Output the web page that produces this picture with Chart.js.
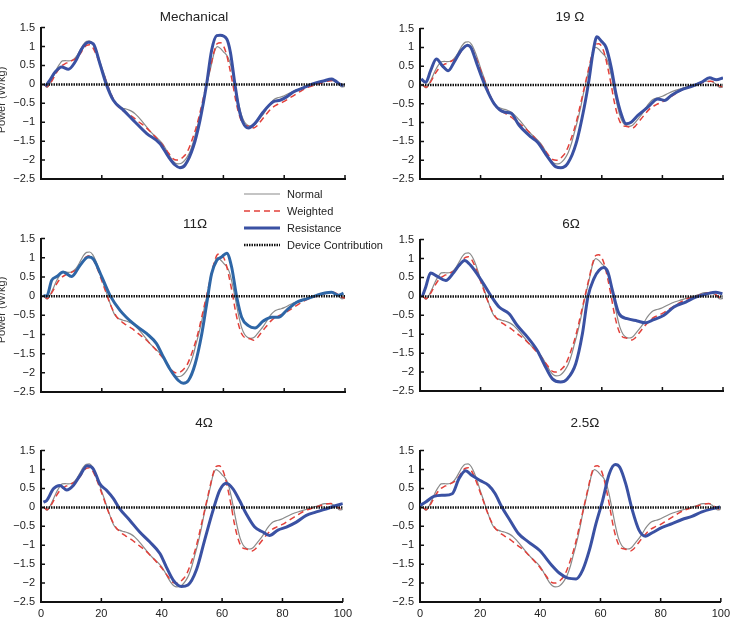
<!DOCTYPE html>
<html>
<head>
<meta charset="utf-8">
<script src="https://cdn.jsdelivr.net/npm/chart.js@4.4.0/dist/chart.umd.min.js"></script>
<style>
  html, body { margin:0; padding:0; background:#fff; }
  body { width:742px; height:621px; position:relative; overflow:hidden; font-family:"Liberation Sans", Arial, sans-serif; color:#222; }
  .panel { position:absolute; }
  .title { position:absolute; font-size:13.5px; color:#222; transform:translate(-50%,-50%); white-space:nowrap; }
  .ylab { position:absolute; font-size:11px; color:#333; white-space:nowrap; transform:translate(-50%,-50%) rotate(-90deg); }
  .legend { position:absolute; left:243px; top:185px; font-size:11px; color:#222; }
  .legend .row { height:17px; display:flex; align-items:center; }
  .legend svg { margin-right:6px; }
</style>
</head>
<body>
<script>
// ---------- DATA ----------
const xTicks = [0, 20, 40, 60, 80, 100];
const yTicks = [1.5, 1, 0.5, 0, -0.5, -1, -1.5, -2, -2.5];
const panelTitles = ['Mechanical', '19 \u03A9', '11\u03A9', '6\u03A9', '4\u03A9', '2.5\u03A9'];
const seriesNames = ['Normal', 'Weighted', 'Resistance', 'Device Contribution'];

const normalX = [1,2,3,4,5,6,7,8,9,10,11,12,13,14,15,16,17,18,19,20,21,22,23,24,25,26,27,28,29,30,31,32,33,34,35,36,37,38,39,40,41,42,43,44,45,46,47,48,49,50,51,52,53,54,55,56,57,58,59,60,61,62,63,64,65,66,67,68,69,70,71,72,73,74,75,76,77,78,79,80,82,84,86,88,90,92,94,96,97,98,99,100];
const normalY = [0.0,-0.08,0.03,0.2,0.38,0.52,0.62,0.63,0.62,0.63,0.68,0.78,0.92,1.06,1.14,1.15,1.08,0.92,0.7,0.45,0.22,-0.02,-0.25,-0.45,-0.56,-0.6,-0.63,-0.65,-0.68,-0.72,-0.78,-0.86,-0.95,-1.05,-1.15,-1.25,-1.33,-1.4,-1.48,-1.57,-1.7,-1.85,-1.98,-2.07,-2.1,-2.09,-2.03,-1.93,-1.78,-1.55,-1.25,-0.95,-0.6,-0.2,0.15,0.5,0.85,1.0,0.95,0.86,0.78,0.62,0.3,-0.1,-0.5,-0.82,-1.0,-1.08,-1.1,-1.08,-1.0,-0.9,-0.8,-0.68,-0.55,-0.45,-0.38,-0.35,-0.33,-0.3,-0.22,-0.15,-0.1,-0.05,0.0,0.05,0.1,0.1,0.06,0.0,-0.07,-0.05];

const weightedX = [1,2,3,4,5,6,7,8,9,10,11,12,13,14,15,16,17,18,19,20,21,22,23,24,25,26,27,28,30,32,34,36,38,40,42,43,44,45,46,47,48,49,50,51,52,53,54,55,56,57,58,59,60,61,62,63,64,65,66,67,68,69,70,71,72,74,76,78,80,82,84,86,88,90,92,94,96,97,98,99,100];
const weightedY = [0.0,-0.06,0.02,0.15,0.3,0.42,0.5,0.55,0.58,0.62,0.66,0.72,0.82,0.95,1.03,1.05,0.98,0.82,0.62,0.4,0.18,-0.05,-0.25,-0.42,-0.55,-0.63,-0.7,-0.75,-0.85,-0.98,-1.1,-1.25,-1.42,-1.6,-1.82,-1.93,-1.99,-2.0,-1.97,-1.9,-1.8,-1.62,-1.4,-1.15,-0.85,-0.5,-0.15,0.2,0.55,0.88,1.08,1.1,1.02,0.8,0.45,0.05,-0.4,-0.75,-0.98,-1.08,-1.1,-1.12,-1.15,-1.1,-1.0,-0.8,-0.62,-0.52,-0.45,-0.35,-0.25,-0.15,-0.07,-0.02,0.03,0.08,0.1,0.08,0.02,-0.03,-0.05];

const deviceX = [0, 100];
const deviceY = [0, 0];

const resMechX = [1.5,3,4.6,6.8,9,11.2,13.4,15.6,17.2,19.4,21.4,23.8,27.1,30.4,34.8,39.1,41.9,44.1,45.7,47.4,50.1,52.3,54.5,56.1,57.8,58.9,61.1,62.3,63.8,65,66.4,68.2,70.4,73.1,76.4,78.6,80.8,83,86.3,89.6,92.9,95.6,96.7,98.4,99.5];
const resMechY = [-0.05,0.12,0.32,0.46,0.4,0.59,0.94,1.11,1.07,0.54,0.02,-0.42,-0.68,-0.95,-1.3,-1.56,-1.91,-2.13,-2.2,-2.13,-1.65,-0.95,0.02,0.89,1.29,1.3,1.2,0.85,0.0,-0.6,-1.0,-1.15,-1.03,-0.73,-0.46,-0.42,-0.33,-0.2,-0.09,0.02,0.09,0.14,0.1,0.0,-0.03];

const res19X = [0.4,1.9,3.5,5.4,7.4,9.3,11.2,13.5,15.7,16.8,19,21.7,24.5,27.8,30,32.7,36.6,38.8,42.1,44.9,46.5,48.7,51.5,54.2,55.9,57,58.4,59.8,61.4,63.1,64.7,66.4,68,69.7,71.9,75.2,78.5,80.7,82.9,86.2,89.5,92.8,95.6,97.8,100];
const res19Y = [0.16,0.07,0.38,0.69,0.51,0.38,0.6,0.91,1.06,1.0,0.51,-0.06,-0.5,-0.72,-0.75,-1.07,-1.38,-1.52,-1.91,-2.18,-2.2,-2.09,-1.56,-0.59,0.2,0.82,1.28,1.17,1.0,0.47,-0.24,-0.77,-1.03,-0.99,-0.81,-0.59,-0.37,-0.41,-0.28,-0.13,-0.04,0.07,0.19,0.14,0.19];

const res11X = [0.8,1.9,3.5,5.2,7.3,10.1,12.8,15.6,17.2,20,22.7,26,30.4,34.8,38,39.7,42.4,45.2,46.8,48.5,50.7,52.9,54.5,56.1,57.8,59.4,61.1,62.7,64.4,66,68.2,70.4,73.1,75.9,78.1,80.8,84.1,87.4,90.7,93.4,95.6,97.8,99.5];
const res11Y = [0.02,0.0,0.41,0.51,0.63,0.51,0.8,1.02,0.97,0.5,0.02,-0.37,-0.72,-0.98,-1.24,-1.5,-1.9,-2.2,-2.27,-2.2,-1.77,-0.98,-0.2,0.58,0.93,1.02,1.12,0.76,-0.03,-0.55,-0.77,-0.83,-0.65,-0.55,-0.55,-0.37,-0.16,-0.07,0.02,0.08,0.1,0.02,0.08];

const res6X = [0.8,1.9,3.5,5.7,8.5,11.2,12.9,14.7,16.7,20.6,23.3,26.1,29.4,32.1,35.4,38.7,40.9,43.7,46.4,48.6,51.4,53.6,55.4,57.4,59.1,60.7,62,63.5,65.7,68.4,71.7,74.5,76.7,80.5,83.8,87.7,91,94.8,97.6,99.8];
const res6Y = [0.0,0.25,0.62,0.53,0.42,0.64,0.82,0.95,0.82,0.38,0.03,-0.28,-0.46,-0.77,-1.07,-1.43,-1.78,-2.18,-2.26,-2.18,-1.78,-0.99,-0.02,0.47,0.69,0.76,0.64,0.16,-0.46,-0.59,-0.65,-0.7,-0.63,-0.5,-0.28,-0.15,-0.02,0.07,0.11,0.07];

const res4X = [0.8,1.9,4.1,6.3,8.5,10.7,12.9,15.3,17.3,19.5,21.7,24,26.1,29.4,32.7,36,39.4,41.5,43.8,46.5,48.7,51.5,54.2,57,59.2,61.4,63.6,65.8,68,70.8,73.5,75.7,78.5,81.3,84.6,87.9,91.2,95.6,97.8,100];
const res4Y = [0.14,0.18,0.49,0.58,0.46,0.58,0.84,1.1,1.02,0.62,0.45,0.23,-0.04,-0.34,-0.65,-0.91,-1.22,-1.57,-1.92,-2.09,-2.05,-1.65,-0.87,-0.08,0.45,0.64,0.49,0.18,-0.17,-0.52,-0.65,-0.74,-0.6,-0.52,-0.39,-0.21,-0.12,-0.01,0.05,0.1];

const res25X = [0,1.9,4.6,7.9,10.7,12.9,15.1,17.3,20,22.8,25,27.2,29.9,32.7,36,39.8,43.7,46.4,49.2,51.9,54.1,56.3,58.5,60.7,62.9,64.9,66.4,68.4,70.6,72.8,75,77.2,80.5,83.8,87.1,90.4,93.7,97,99.8];
const res25Y = [0.05,0.14,0.29,0.32,0.36,0.75,0.97,0.84,0.71,0.58,0.36,0.01,-0.34,-0.69,-0.91,-1.14,-1.52,-1.74,-1.87,-1.89,-1.65,-1.13,-0.43,0.18,0.88,1.13,1.06,0.62,-0.08,-0.6,-0.76,-0.67,-0.53,-0.43,-0.32,-0.24,-0.12,-0.04,0.01];

const resistanceX = [resMechX, res19X, res11X, res6X, res4X, res25X];
const resistanceY = [resMechY, res19Y, res11Y, res6Y, res4Y, res25Y];

// ---------- STYLE / LAYOUT ----------
const COL_NORMAL = '#8a8a8a', COL_WEIGHTED = '#e2403a', COL_RES = '#3a51a3', COL_RES_ALT = '#2e66a6';
const FONT = '"Liberation Sans", Arial, sans-serif';
// chart area boxes [left, right, top, bottom] in page pixels
const boxes = [
  [41, 345, 27, 179], [420, 723, 28, 179],
  [41, 345, 238, 392], [420, 723, 239, 391],
  [41, 345, 450, 602], [420, 723, 450, 602]
];
const titlePos = [[194,16],[570,16],[195,223],[571,223],[204,422],[585,422]];
const YAXW = 40, PADT = 12, PADR = 12, XAXH = 22;

const pts = (xs, ys) => xs.map((x, i) => ({x: x, y: ys[i]}));
const fmt = v => (v < 0 ? '\u2212' : '') + Math.abs(v);

const inwardTicks = {
  id: 'inwardTicks',
  afterDraw(chart) {
    const {ctx, chartArea: a, scales: {x, y}} = chart;
    ctx.save();
    ctx.strokeStyle = '#111'; ctx.lineWidth = 1.5;
    ctx.beginPath();
    x.ticks.forEach(t => { const px = x.getPixelForValue(t.value); ctx.moveTo(px, a.bottom); ctx.lineTo(px, a.bottom - 4); });
    y.ticks.forEach(t => { const py = y.getPixelForValue(t.value); ctx.moveTo(a.left, py); ctx.lineTo(a.left + 4, py); });
    ctx.stroke();
    ctx.restore();
  }
};

boxes.forEach((b, i) => {
  const [L, R, T, B] = b;
  const W = (R - L) + YAXW + PADR, H = (B - T) + PADT + XAXH;
  const div = document.createElement('div');
  div.className = 'panel';
  div.style.left = (L - YAXW) + 'px'; div.style.top = (T - PADT) + 'px';
  div.style.width = W + 'px'; div.style.height = H + 'px';
  const cv = document.createElement('canvas');
  cv.width = W; cv.height = H; cv.style.width = W + 'px'; cv.style.height = H + 'px';
  div.appendChild(cv); document.body.appendChild(div);

  const t = document.createElement('div');
  t.className = 'title'; t.textContent = panelTitles[i];
  t.style.left = titlePos[i][0] + 'px'; t.style.top = titlePos[i][1] + 'px';
  document.body.appendChild(t);

  const bottomRow = i >= 4;
  new Chart(cv, {
    type: 'line',
    data: {
      datasets: [
        { label: seriesNames[0], data: pts(normalX, normalY), borderColor: COL_NORMAL, borderWidth: 1.2, pointRadius: 0, cubicInterpolationMode: 'monotone', order: 4 },
        { label: seriesNames[1], data: pts(weightedX, weightedY), borderColor: COL_WEIGHTED, borderWidth: 1.5, borderDash: [6, 4], pointRadius: 0, cubicInterpolationMode: 'monotone', order: 3 },
        { label: seriesNames[2], data: pts(resistanceX[i], resistanceY[i]), borderColor: i === 2 ? COL_RES_ALT : COL_RES, borderWidth: 3, pointRadius: 0, cubicInterpolationMode: 'monotone', order: 2 },
        { label: seriesNames[3], data: pts(deviceX, deviceY), borderColor: '#111', borderWidth: 2.5, borderDash: [1.5, 1], pointRadius: 0, order: 1 }
      ]
    },
    options: {
      responsive: false, animation: false, devicePixelRatio: 1,
      layout: { padding: { top: PADT, right: PADR, left: 0, bottom: 0 } },
      plugins: { legend: { display: false }, tooltip: { enabled: false }, title: { display: false } },
      scales: {
        x: {
          type: 'linear', min: 0, max: 100,
          afterFit: s => { s.height = XAXH; },
          afterBuildTicks: s => { s.ticks = xTicks.map(v => ({value: v})); },
          grid: { drawOnChartArea: false, drawTicks: false },
          border: { display: true, color: '#111', width: 2 },
          ticks: { display: bottomRow, padding: 5, color: '#222', font: { family: FONT, size: 11 }, maxRotation: 0 }
        },
        y: {
          type: 'linear', min: -2.5, max: 1.5,
          afterFit: s => { s.width = YAXW; },
          afterBuildTicks: s => { s.ticks = yTicks.map(v => ({value: v})); },
          grid: { drawOnChartArea: false, drawTicks: false },
          border: { display: true, color: '#111', width: 2 },
          ticks: { padding: 6, color: '#222', font: { family: FONT, size: 11 }, callback: v => fmt(v) }
        }
      }
    },
    plugins: [inwardTicks]
  });
});

// y-axis labels (cut at left edge, as in the reference)
[[1, 100], [1, 310]].forEach(p => {
  const d = document.createElement('div');
  d.className = 'ylab'; d.textContent = 'Power (W/kg)';
  d.style.left = p[0] + 'px'; d.style.top = p[1] + 'px';
  document.body.appendChild(d);
});

// legend
const lg = document.createElement('div');
lg.className = 'legend';
const samples = [
  '<line x1="1" y1="5" x2="37" y2="5" stroke="' + COL_NORMAL + '" stroke-width="1.2"/>',
  '<line x1="1" y1="5" x2="37" y2="5" stroke="' + COL_WEIGHTED + '" stroke-width="1.5" stroke-dasharray="6 4"/>',
  '<line x1="1" y1="5" x2="37" y2="5" stroke="' + COL_RES + '" stroke-width="3"/>',
  '<line x1="1" y1="5" x2="37" y2="5" stroke="#111" stroke-width="2.5" stroke-dasharray="1.5 1"/>'
];
seriesNames.forEach((n, k) => {
  const r = document.createElement('div');
  r.className = 'row';
  r.innerHTML = '<svg width="38" height="10">' + samples[k] + '</svg><span>' + n + '</span>';
  lg.appendChild(r);
});
document.body.appendChild(lg);
</script>
</body>
</html>
